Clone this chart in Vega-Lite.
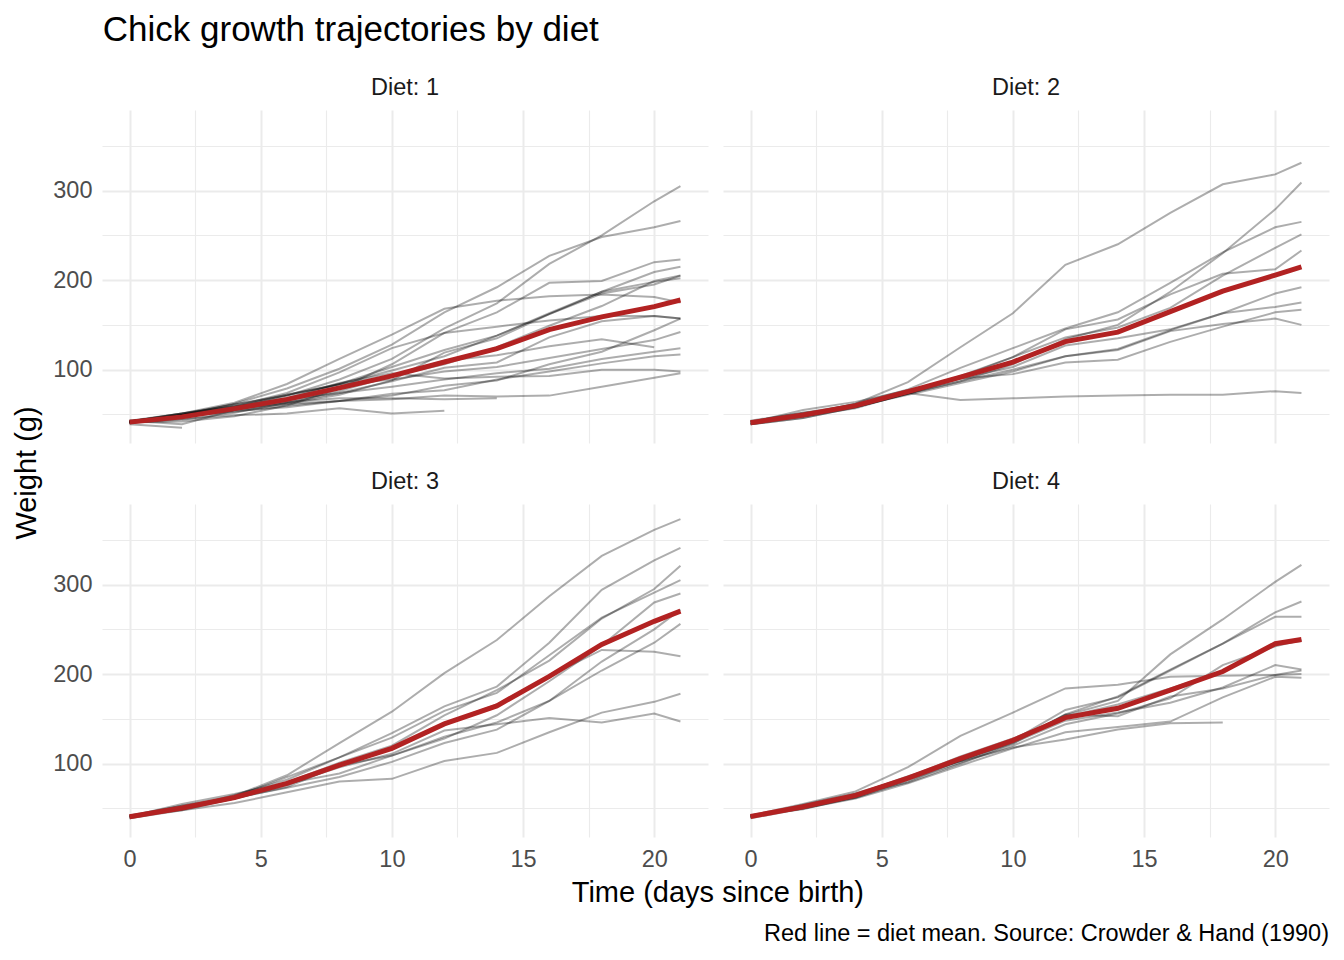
{
"$schema": "https://vega.github.io/schema/vega-lite/v6.json",
"padding": {"left": 12, "top": 12, "right": 11, "bottom": 8},
"title": {"text": "Chick growth trajectories by diet", "anchor": "start", "fontSize": 35, "fontWeight": "normal", "color": "#000000", "dx": 90, "offset": 28},
"data": {"values": [
{"chick":1,"diet":1,"time":0,"weight":42},{"chick":1,"diet":1,"time":2,"weight":51},{"chick":1,"diet":1,"time":4,"weight":59},{"chick":1,"diet":1,"time":6,"weight":64},{"chick":1,"diet":1,"time":8,"weight":76},{"chick":1,"diet":1,"time":10,"weight":93},{"chick":1,"diet":1,"time":12,"weight":106},{"chick":1,"diet":1,"time":14,"weight":125},{"chick":1,"diet":1,"time":16,"weight":149},{"chick":1,"diet":1,"time":18,"weight":171},{"chick":1,"diet":1,"time":20,"weight":199},{"chick":1,"diet":1,"time":21,"weight":205},
{"chick":2,"diet":1,"time":0,"weight":40},{"chick":2,"diet":1,"time":2,"weight":49},{"chick":2,"diet":1,"time":4,"weight":58},{"chick":2,"diet":1,"time":6,"weight":72},{"chick":2,"diet":1,"time":8,"weight":84},{"chick":2,"diet":1,"time":10,"weight":103},{"chick":2,"diet":1,"time":12,"weight":122},{"chick":2,"diet":1,"time":14,"weight":138},{"chick":2,"diet":1,"time":16,"weight":162},{"chick":2,"diet":1,"time":18,"weight":187},{"chick":2,"diet":1,"time":20,"weight":209},{"chick":2,"diet":1,"time":21,"weight":215},
{"chick":3,"diet":1,"time":0,"weight":43},{"chick":3,"diet":1,"time":2,"weight":39},{"chick":3,"diet":1,"time":4,"weight":55},{"chick":3,"diet":1,"time":6,"weight":67},{"chick":3,"diet":1,"time":8,"weight":84},{"chick":3,"diet":1,"time":10,"weight":99},{"chick":3,"diet":1,"time":12,"weight":115},{"chick":3,"diet":1,"time":14,"weight":138},{"chick":3,"diet":1,"time":16,"weight":163},{"chick":3,"diet":1,"time":18,"weight":187},{"chick":3,"diet":1,"time":20,"weight":198},{"chick":3,"diet":1,"time":21,"weight":202},
{"chick":4,"diet":1,"time":0,"weight":42},{"chick":4,"diet":1,"time":2,"weight":49},{"chick":4,"diet":1,"time":4,"weight":56},{"chick":4,"diet":1,"time":6,"weight":67},{"chick":4,"diet":1,"time":8,"weight":74},{"chick":4,"diet":1,"time":10,"weight":87},{"chick":4,"diet":1,"time":12,"weight":102},{"chick":4,"diet":1,"time":14,"weight":108},{"chick":4,"diet":1,"time":16,"weight":136},{"chick":4,"diet":1,"time":18,"weight":154},{"chick":4,"diet":1,"time":20,"weight":160},{"chick":4,"diet":1,"time":21,"weight":157},
{"chick":5,"diet":1,"time":0,"weight":41},{"chick":5,"diet":1,"time":2,"weight":42},{"chick":5,"diet":1,"time":4,"weight":48},{"chick":5,"diet":1,"time":6,"weight":60},{"chick":5,"diet":1,"time":8,"weight":79},{"chick":5,"diet":1,"time":10,"weight":106},{"chick":5,"diet":1,"time":12,"weight":141},{"chick":5,"diet":1,"time":14,"weight":164},{"chick":5,"diet":1,"time":16,"weight":197},{"chick":5,"diet":1,"time":18,"weight":199},{"chick":5,"diet":1,"time":20,"weight":220},{"chick":5,"diet":1,"time":21,"weight":223},
{"chick":6,"diet":1,"time":0,"weight":41},{"chick":6,"diet":1,"time":2,"weight":49},{"chick":6,"diet":1,"time":4,"weight":59},{"chick":6,"diet":1,"time":6,"weight":74},{"chick":6,"diet":1,"time":8,"weight":97},{"chick":6,"diet":1,"time":10,"weight":124},{"chick":6,"diet":1,"time":12,"weight":141},{"chick":6,"diet":1,"time":14,"weight":148},{"chick":6,"diet":1,"time":16,"weight":155},{"chick":6,"diet":1,"time":18,"weight":160},{"chick":6,"diet":1,"time":20,"weight":160},{"chick":6,"diet":1,"time":21,"weight":157},
{"chick":7,"diet":1,"time":0,"weight":41},{"chick":7,"diet":1,"time":2,"weight":49},{"chick":7,"diet":1,"time":4,"weight":57},{"chick":7,"diet":1,"time":6,"weight":71},{"chick":7,"diet":1,"time":8,"weight":89},{"chick":7,"diet":1,"time":10,"weight":112},{"chick":7,"diet":1,"time":12,"weight":146},{"chick":7,"diet":1,"time":14,"weight":174},{"chick":7,"diet":1,"time":16,"weight":218},{"chick":7,"diet":1,"time":18,"weight":250},{"chick":7,"diet":1,"time":20,"weight":288},{"chick":7,"diet":1,"time":21,"weight":305},
{"chick":8,"diet":1,"time":0,"weight":42},{"chick":8,"diet":1,"time":2,"weight":50},{"chick":8,"diet":1,"time":4,"weight":61},{"chick":8,"diet":1,"time":6,"weight":71},{"chick":8,"diet":1,"time":8,"weight":84},{"chick":8,"diet":1,"time":10,"weight":93},{"chick":8,"diet":1,"time":12,"weight":110},{"chick":8,"diet":1,"time":14,"weight":116},{"chick":8,"diet":1,"time":16,"weight":126},{"chick":8,"diet":1,"time":18,"weight":134},{"chick":8,"diet":1,"time":20,"weight":125},
{"chick":9,"diet":1,"time":0,"weight":42},{"chick":9,"diet":1,"time":2,"weight":51},{"chick":9,"diet":1,"time":4,"weight":59},{"chick":9,"diet":1,"time":6,"weight":68},{"chick":9,"diet":1,"time":8,"weight":85},{"chick":9,"diet":1,"time":10,"weight":96},{"chick":9,"diet":1,"time":12,"weight":90},{"chick":9,"diet":1,"time":14,"weight":92},{"chick":9,"diet":1,"time":16,"weight":93},{"chick":9,"diet":1,"time":18,"weight":100},{"chick":9,"diet":1,"time":20,"weight":100},{"chick":9,"diet":1,"time":21,"weight":98},
{"chick":10,"diet":1,"time":0,"weight":41},{"chick":10,"diet":1,"time":2,"weight":44},{"chick":10,"diet":1,"time":4,"weight":52},{"chick":10,"diet":1,"time":6,"weight":63},{"chick":10,"diet":1,"time":8,"weight":74},{"chick":10,"diet":1,"time":10,"weight":81},{"chick":10,"diet":1,"time":12,"weight":89},{"chick":10,"diet":1,"time":14,"weight":96},{"chick":10,"diet":1,"time":16,"weight":101},{"chick":10,"diet":1,"time":18,"weight":112},{"chick":10,"diet":1,"time":20,"weight":120},{"chick":10,"diet":1,"time":21,"weight":124},
{"chick":11,"diet":1,"time":0,"weight":43},{"chick":11,"diet":1,"time":2,"weight":51},{"chick":11,"diet":1,"time":4,"weight":63},{"chick":11,"diet":1,"time":6,"weight":84},{"chick":11,"diet":1,"time":8,"weight":112},{"chick":11,"diet":1,"time":10,"weight":139},{"chick":11,"diet":1,"time":12,"weight":168},{"chick":11,"diet":1,"time":14,"weight":177},{"chick":11,"diet":1,"time":16,"weight":182},{"chick":11,"diet":1,"time":18,"weight":184},{"chick":11,"diet":1,"time":20,"weight":181},{"chick":11,"diet":1,"time":21,"weight":175},
{"chick":12,"diet":1,"time":0,"weight":41},{"chick":12,"diet":1,"time":2,"weight":49},{"chick":12,"diet":1,"time":4,"weight":56},{"chick":12,"diet":1,"time":6,"weight":62},{"chick":12,"diet":1,"time":8,"weight":72},{"chick":12,"diet":1,"time":10,"weight":88},{"chick":12,"diet":1,"time":12,"weight":119},{"chick":12,"diet":1,"time":14,"weight":135},{"chick":12,"diet":1,"time":16,"weight":162},{"chick":12,"diet":1,"time":18,"weight":185},{"chick":12,"diet":1,"time":20,"weight":195},{"chick":12,"diet":1,"time":21,"weight":205},
{"chick":13,"diet":1,"time":0,"weight":41},{"chick":13,"diet":1,"time":2,"weight":48},{"chick":13,"diet":1,"time":4,"weight":53},{"chick":13,"diet":1,"time":6,"weight":60},{"chick":13,"diet":1,"time":8,"weight":65},{"chick":13,"diet":1,"time":10,"weight":67},{"chick":13,"diet":1,"time":12,"weight":71},{"chick":13,"diet":1,"time":14,"weight":70},{"chick":13,"diet":1,"time":16,"weight":71},{"chick":13,"diet":1,"time":18,"weight":81},{"chick":13,"diet":1,"time":20,"weight":91},{"chick":13,"diet":1,"time":21,"weight":96},
{"chick":14,"diet":1,"time":0,"weight":41},{"chick":14,"diet":1,"time":2,"weight":49},{"chick":14,"diet":1,"time":4,"weight":62},{"chick":14,"diet":1,"time":6,"weight":79},{"chick":14,"diet":1,"time":8,"weight":101},{"chick":14,"diet":1,"time":10,"weight":128},{"chick":14,"diet":1,"time":12,"weight":164},{"chick":14,"diet":1,"time":14,"weight":192},{"chick":14,"diet":1,"time":16,"weight":227},{"chick":14,"diet":1,"time":18,"weight":248},{"chick":14,"diet":1,"time":20,"weight":259},{"chick":14,"diet":1,"time":21,"weight":266},
{"chick":15,"diet":1,"time":0,"weight":41},{"chick":15,"diet":1,"time":2,"weight":49},{"chick":15,"diet":1,"time":4,"weight":56},{"chick":15,"diet":1,"time":6,"weight":64},{"chick":15,"diet":1,"time":8,"weight":68},{"chick":15,"diet":1,"time":10,"weight":68},{"chick":15,"diet":1,"time":12,"weight":67},{"chick":15,"diet":1,"time":14,"weight":68},
{"chick":16,"diet":1,"time":0,"weight":41},{"chick":16,"diet":1,"time":2,"weight":45},{"chick":16,"diet":1,"time":4,"weight":49},{"chick":16,"diet":1,"time":6,"weight":51},{"chick":16,"diet":1,"time":8,"weight":57},{"chick":16,"diet":1,"time":10,"weight":51},{"chick":16,"diet":1,"time":12,"weight":54},
{"chick":17,"diet":1,"time":0,"weight":42},{"chick":17,"diet":1,"time":2,"weight":51},{"chick":17,"diet":1,"time":4,"weight":61},{"chick":17,"diet":1,"time":6,"weight":72},{"chick":17,"diet":1,"time":8,"weight":83},{"chick":17,"diet":1,"time":10,"weight":89},{"chick":17,"diet":1,"time":12,"weight":98},{"chick":17,"diet":1,"time":14,"weight":103},{"chick":17,"diet":1,"time":16,"weight":113},{"chick":17,"diet":1,"time":18,"weight":123},{"chick":17,"diet":1,"time":20,"weight":133},{"chick":17,"diet":1,"time":21,"weight":142},
{"chick":18,"diet":1,"time":0,"weight":39},{"chick":18,"diet":1,"time":2,"weight":35},
{"chick":19,"diet":1,"time":0,"weight":43},{"chick":19,"diet":1,"time":2,"weight":48},{"chick":19,"diet":1,"time":4,"weight":55},{"chick":19,"diet":1,"time":6,"weight":62},{"chick":19,"diet":1,"time":8,"weight":65},{"chick":19,"diet":1,"time":10,"weight":71},{"chick":19,"diet":1,"time":12,"weight":82},{"chick":19,"diet":1,"time":14,"weight":88},{"chick":19,"diet":1,"time":16,"weight":106},{"chick":19,"diet":1,"time":18,"weight":120},{"chick":19,"diet":1,"time":20,"weight":144},{"chick":19,"diet":1,"time":21,"weight":157},
{"chick":20,"diet":1,"time":0,"weight":41},{"chick":20,"diet":1,"time":2,"weight":47},{"chick":20,"diet":1,"time":4,"weight":54},{"chick":20,"diet":1,"time":6,"weight":58},{"chick":20,"diet":1,"time":8,"weight":65},{"chick":20,"diet":1,"time":10,"weight":73},{"chick":20,"diet":1,"time":12,"weight":77},{"chick":20,"diet":1,"time":14,"weight":89},{"chick":20,"diet":1,"time":16,"weight":98},{"chick":20,"diet":1,"time":18,"weight":107},{"chick":20,"diet":1,"time":20,"weight":115},{"chick":20,"diet":1,"time":21,"weight":117},
{"chick":21,"diet":2,"time":0,"weight":40},{"chick":21,"diet":2,"time":2,"weight":50},{"chick":21,"diet":2,"time":4,"weight":62},{"chick":21,"diet":2,"time":6,"weight":86},{"chick":21,"diet":2,"time":8,"weight":125},{"chick":21,"diet":2,"time":10,"weight":163},{"chick":21,"diet":2,"time":12,"weight":217},{"chick":21,"diet":2,"time":14,"weight":240},{"chick":21,"diet":2,"time":16,"weight":275},{"chick":21,"diet":2,"time":18,"weight":307},{"chick":21,"diet":2,"time":20,"weight":318},{"chick":21,"diet":2,"time":21,"weight":331},
{"chick":22,"diet":2,"time":0,"weight":41},{"chick":22,"diet":2,"time":2,"weight":55},{"chick":22,"diet":2,"time":4,"weight":64},{"chick":22,"diet":2,"time":6,"weight":77},{"chick":22,"diet":2,"time":8,"weight":90},{"chick":22,"diet":2,"time":10,"weight":95},{"chick":22,"diet":2,"time":12,"weight":108},{"chick":22,"diet":2,"time":14,"weight":111},{"chick":22,"diet":2,"time":16,"weight":131},{"chick":22,"diet":2,"time":18,"weight":148},{"chick":22,"diet":2,"time":20,"weight":164},{"chick":22,"diet":2,"time":21,"weight":167},
{"chick":23,"diet":2,"time":0,"weight":43},{"chick":23,"diet":2,"time":2,"weight":52},{"chick":23,"diet":2,"time":4,"weight":61},{"chick":23,"diet":2,"time":6,"weight":73},{"chick":23,"diet":2,"time":8,"weight":90},{"chick":23,"diet":2,"time":10,"weight":103},{"chick":23,"diet":2,"time":12,"weight":127},{"chick":23,"diet":2,"time":14,"weight":135},{"chick":23,"diet":2,"time":16,"weight":145},{"chick":23,"diet":2,"time":18,"weight":163},{"chick":23,"diet":2,"time":20,"weight":170},{"chick":23,"diet":2,"time":21,"weight":175},
{"chick":24,"diet":2,"time":0,"weight":42},{"chick":24,"diet":2,"time":2,"weight":52},{"chick":24,"diet":2,"time":4,"weight":58},{"chick":24,"diet":2,"time":6,"weight":74},{"chick":24,"diet":2,"time":8,"weight":66},{"chick":24,"diet":2,"time":10,"weight":68},{"chick":24,"diet":2,"time":12,"weight":70},{"chick":24,"diet":2,"time":14,"weight":71},{"chick":24,"diet":2,"time":16,"weight":72},{"chick":24,"diet":2,"time":18,"weight":72},{"chick":24,"diet":2,"time":20,"weight":76},{"chick":24,"diet":2,"time":21,"weight":74},
{"chick":25,"diet":2,"time":0,"weight":40},{"chick":25,"diet":2,"time":2,"weight":49},{"chick":25,"diet":2,"time":4,"weight":62},{"chick":25,"diet":2,"time":6,"weight":78},{"chick":25,"diet":2,"time":8,"weight":102},{"chick":25,"diet":2,"time":10,"weight":124},{"chick":25,"diet":2,"time":12,"weight":146},{"chick":25,"diet":2,"time":14,"weight":164},{"chick":25,"diet":2,"time":16,"weight":197},{"chick":25,"diet":2,"time":18,"weight":231},{"chick":25,"diet":2,"time":20,"weight":259},{"chick":25,"diet":2,"time":21,"weight":265},
{"chick":26,"diet":2,"time":0,"weight":42},{"chick":26,"diet":2,"time":2,"weight":48},{"chick":26,"diet":2,"time":4,"weight":57},{"chick":26,"diet":2,"time":6,"weight":74},{"chick":26,"diet":2,"time":8,"weight":93},{"chick":26,"diet":2,"time":10,"weight":114},{"chick":26,"diet":2,"time":12,"weight":136},{"chick":26,"diet":2,"time":14,"weight":147},{"chick":26,"diet":2,"time":16,"weight":169},{"chick":26,"diet":2,"time":18,"weight":205},{"chick":26,"diet":2,"time":20,"weight":236},{"chick":26,"diet":2,"time":21,"weight":251},
{"chick":27,"diet":2,"time":0,"weight":39},{"chick":27,"diet":2,"time":2,"weight":46},{"chick":27,"diet":2,"time":4,"weight":58},{"chick":27,"diet":2,"time":6,"weight":73},{"chick":27,"diet":2,"time":8,"weight":87},{"chick":27,"diet":2,"time":10,"weight":100},{"chick":27,"diet":2,"time":12,"weight":115},{"chick":27,"diet":2,"time":14,"weight":123},{"chick":27,"diet":2,"time":16,"weight":144},{"chick":27,"diet":2,"time":18,"weight":163},{"chick":27,"diet":2,"time":20,"weight":185},{"chick":27,"diet":2,"time":21,"weight":192},
{"chick":28,"diet":2,"time":0,"weight":39},{"chick":28,"diet":2,"time":2,"weight":46},{"chick":28,"diet":2,"time":4,"weight":58},{"chick":28,"diet":2,"time":6,"weight":73},{"chick":28,"diet":2,"time":8,"weight":92},{"chick":28,"diet":2,"time":10,"weight":114},{"chick":28,"diet":2,"time":12,"weight":145},{"chick":28,"diet":2,"time":14,"weight":156},{"chick":28,"diet":2,"time":16,"weight":184},{"chick":28,"diet":2,"time":18,"weight":207},{"chick":28,"diet":2,"time":20,"weight":212},{"chick":28,"diet":2,"time":21,"weight":233},
{"chick":29,"diet":2,"time":0,"weight":39},{"chick":29,"diet":2,"time":2,"weight":48},{"chick":29,"diet":2,"time":4,"weight":59},{"chick":29,"diet":2,"time":6,"weight":74},{"chick":29,"diet":2,"time":8,"weight":87},{"chick":29,"diet":2,"time":10,"weight":106},{"chick":29,"diet":2,"time":12,"weight":134},{"chick":29,"diet":2,"time":14,"weight":150},{"chick":29,"diet":2,"time":16,"weight":187},{"chick":29,"diet":2,"time":18,"weight":230},{"chick":29,"diet":2,"time":20,"weight":279},{"chick":29,"diet":2,"time":21,"weight":309},
{"chick":30,"diet":2,"time":0,"weight":42},{"chick":30,"diet":2,"time":2,"weight":48},{"chick":30,"diet":2,"time":4,"weight":59},{"chick":30,"diet":2,"time":6,"weight":72},{"chick":30,"diet":2,"time":8,"weight":85},{"chick":30,"diet":2,"time":10,"weight":98},{"chick":30,"diet":2,"time":12,"weight":115},{"chick":30,"diet":2,"time":14,"weight":122},{"chick":30,"diet":2,"time":16,"weight":143},{"chick":30,"diet":2,"time":18,"weight":151},{"chick":30,"diet":2,"time":20,"weight":157},{"chick":30,"diet":2,"time":21,"weight":150},
{"chick":31,"diet":3,"time":0,"weight":42},{"chick":31,"diet":3,"time":2,"weight":53},{"chick":31,"diet":3,"time":4,"weight":62},{"chick":31,"diet":3,"time":6,"weight":73},{"chick":31,"diet":3,"time":8,"weight":85},{"chick":31,"diet":3,"time":10,"weight":102},{"chick":31,"diet":3,"time":12,"weight":123},{"chick":31,"diet":3,"time":14,"weight":138},{"chick":31,"diet":3,"time":16,"weight":170},{"chick":31,"diet":3,"time":18,"weight":204},{"chick":31,"diet":3,"time":20,"weight":235},{"chick":31,"diet":3,"time":21,"weight":256},
{"chick":32,"diet":3,"time":0,"weight":41},{"chick":32,"diet":3,"time":2,"weight":49},{"chick":32,"diet":3,"time":4,"weight":65},{"chick":32,"diet":3,"time":6,"weight":82},{"chick":32,"diet":3,"time":8,"weight":107},{"chick":32,"diet":3,"time":10,"weight":129},{"chick":32,"diet":3,"time":12,"weight":159},{"chick":32,"diet":3,"time":14,"weight":179},{"chick":32,"diet":3,"time":16,"weight":221},{"chick":32,"diet":3,"time":18,"weight":263},{"chick":32,"diet":3,"time":20,"weight":291},{"chick":32,"diet":3,"time":21,"weight":305},
{"chick":33,"diet":3,"time":0,"weight":39},{"chick":33,"diet":3,"time":2,"weight":50},{"chick":33,"diet":3,"time":4,"weight":63},{"chick":33,"diet":3,"time":6,"weight":77},{"chick":33,"diet":3,"time":8,"weight":96},{"chick":33,"diet":3,"time":10,"weight":111},{"chick":33,"diet":3,"time":12,"weight":137},{"chick":33,"diet":3,"time":14,"weight":144},{"chick":33,"diet":3,"time":16,"weight":151},{"chick":33,"diet":3,"time":18,"weight":146},{"chick":33,"diet":3,"time":20,"weight":156},{"chick":33,"diet":3,"time":21,"weight":147},
{"chick":34,"diet":3,"time":0,"weight":41},{"chick":34,"diet":3,"time":2,"weight":49},{"chick":34,"diet":3,"time":4,"weight":63},{"chick":34,"diet":3,"time":6,"weight":85},{"chick":34,"diet":3,"time":8,"weight":107},{"chick":34,"diet":3,"time":10,"weight":134},{"chick":34,"diet":3,"time":12,"weight":164},{"chick":34,"diet":3,"time":14,"weight":186},{"chick":34,"diet":3,"time":16,"weight":235},{"chick":34,"diet":3,"time":18,"weight":294},{"chick":34,"diet":3,"time":20,"weight":327},{"chick":34,"diet":3,"time":21,"weight":341},
{"chick":35,"diet":3,"time":0,"weight":41},{"chick":35,"diet":3,"time":2,"weight":53},{"chick":35,"diet":3,"time":4,"weight":64},{"chick":35,"diet":3,"time":6,"weight":87},{"chick":35,"diet":3,"time":8,"weight":123},{"chick":35,"diet":3,"time":10,"weight":158},{"chick":35,"diet":3,"time":12,"weight":201},{"chick":35,"diet":3,"time":14,"weight":238},{"chick":35,"diet":3,"time":16,"weight":287},{"chick":35,"diet":3,"time":18,"weight":332},{"chick":35,"diet":3,"time":20,"weight":361},{"chick":35,"diet":3,"time":21,"weight":373},
{"chick":36,"diet":3,"time":0,"weight":39},{"chick":36,"diet":3,"time":2,"weight":48},{"chick":36,"diet":3,"time":4,"weight":61},{"chick":36,"diet":3,"time":6,"weight":76},{"chick":36,"diet":3,"time":8,"weight":98},{"chick":36,"diet":3,"time":10,"weight":116},{"chick":36,"diet":3,"time":12,"weight":145},{"chick":36,"diet":3,"time":14,"weight":166},{"chick":36,"diet":3,"time":16,"weight":198},{"chick":36,"diet":3,"time":18,"weight":227},{"chick":36,"diet":3,"time":20,"weight":225},{"chick":36,"diet":3,"time":21,"weight":220},
{"chick":37,"diet":3,"time":0,"weight":41},{"chick":37,"diet":3,"time":2,"weight":48},{"chick":37,"diet":3,"time":4,"weight":56},{"chick":37,"diet":3,"time":6,"weight":68},{"chick":37,"diet":3,"time":8,"weight":80},{"chick":37,"diet":3,"time":10,"weight":83},{"chick":37,"diet":3,"time":12,"weight":103},{"chick":37,"diet":3,"time":14,"weight":112},{"chick":37,"diet":3,"time":16,"weight":135},{"chick":37,"diet":3,"time":18,"weight":157},{"chick":37,"diet":3,"time":20,"weight":169},{"chick":37,"diet":3,"time":21,"weight":178},
{"chick":38,"diet":3,"time":0,"weight":41},{"chick":38,"diet":3,"time":2,"weight":49},{"chick":38,"diet":3,"time":4,"weight":61},{"chick":38,"diet":3,"time":6,"weight":74},{"chick":38,"diet":3,"time":8,"weight":98},{"chick":38,"diet":3,"time":10,"weight":109},{"chick":38,"diet":3,"time":12,"weight":128},{"chick":38,"diet":3,"time":14,"weight":154},{"chick":38,"diet":3,"time":16,"weight":192},{"chick":38,"diet":3,"time":18,"weight":232},{"chick":38,"diet":3,"time":20,"weight":280},{"chick":38,"diet":3,"time":21,"weight":290},
{"chick":39,"diet":3,"time":0,"weight":42},{"chick":39,"diet":3,"time":2,"weight":50},{"chick":39,"diet":3,"time":4,"weight":61},{"chick":39,"diet":3,"time":6,"weight":78},{"chick":39,"diet":3,"time":8,"weight":89},{"chick":39,"diet":3,"time":10,"weight":109},{"chick":39,"diet":3,"time":12,"weight":130},{"chick":39,"diet":3,"time":14,"weight":146},{"chick":39,"diet":3,"time":16,"weight":170},{"chick":39,"diet":3,"time":18,"weight":214},{"chick":39,"diet":3,"time":20,"weight":250},{"chick":39,"diet":3,"time":21,"weight":272},
{"chick":40,"diet":3,"time":0,"weight":41},{"chick":40,"diet":3,"time":2,"weight":55},{"chick":40,"diet":3,"time":4,"weight":66},{"chick":40,"diet":3,"time":6,"weight":79},{"chick":40,"diet":3,"time":8,"weight":101},{"chick":40,"diet":3,"time":10,"weight":120},{"chick":40,"diet":3,"time":12,"weight":154},{"chick":40,"diet":3,"time":14,"weight":182},{"chick":40,"diet":3,"time":16,"weight":215},{"chick":40,"diet":3,"time":18,"weight":262},{"chick":40,"diet":3,"time":20,"weight":295},{"chick":40,"diet":3,"time":21,"weight":321},
{"chick":41,"diet":4,"time":0,"weight":42},{"chick":41,"diet":4,"time":2,"weight":51},{"chick":41,"diet":4,"time":4,"weight":66},{"chick":41,"diet":4,"time":6,"weight":85},{"chick":41,"diet":4,"time":8,"weight":103},{"chick":41,"diet":4,"time":10,"weight":124},{"chick":41,"diet":4,"time":12,"weight":155},{"chick":41,"diet":4,"time":14,"weight":153},{"chick":41,"diet":4,"time":16,"weight":175},{"chick":41,"diet":4,"time":18,"weight":184},{"chick":41,"diet":4,"time":20,"weight":199},{"chick":41,"diet":4,"time":21,"weight":204},
{"chick":42,"diet":4,"time":0,"weight":42},{"chick":42,"diet":4,"time":2,"weight":49},{"chick":42,"diet":4,"time":4,"weight":63},{"chick":42,"diet":4,"time":6,"weight":84},{"chick":42,"diet":4,"time":8,"weight":103},{"chick":42,"diet":4,"time":10,"weight":126},{"chick":42,"diet":4,"time":12,"weight":160},{"chick":42,"diet":4,"time":14,"weight":174},{"chick":42,"diet":4,"time":16,"weight":204},{"chick":42,"diet":4,"time":18,"weight":234},{"chick":42,"diet":4,"time":20,"weight":269},{"chick":42,"diet":4,"time":21,"weight":281},
{"chick":43,"diet":4,"time":0,"weight":42},{"chick":43,"diet":4,"time":2,"weight":55},{"chick":43,"diet":4,"time":4,"weight":69},{"chick":43,"diet":4,"time":6,"weight":96},{"chick":43,"diet":4,"time":8,"weight":131},{"chick":43,"diet":4,"time":10,"weight":157},{"chick":43,"diet":4,"time":12,"weight":184},{"chick":43,"diet":4,"time":14,"weight":188},{"chick":43,"diet":4,"time":16,"weight":197},{"chick":43,"diet":4,"time":18,"weight":198},{"chick":43,"diet":4,"time":20,"weight":199},{"chick":43,"diet":4,"time":21,"weight":200},
{"chick":44,"diet":4,"time":0,"weight":42},{"chick":44,"diet":4,"time":2,"weight":51},{"chick":44,"diet":4,"time":4,"weight":65},{"chick":44,"diet":4,"time":6,"weight":86},{"chick":44,"diet":4,"time":8,"weight":103},{"chick":44,"diet":4,"time":10,"weight":118},{"chick":44,"diet":4,"time":12,"weight":127},{"chick":44,"diet":4,"time":14,"weight":138},{"chick":44,"diet":4,"time":16,"weight":145},{"chick":44,"diet":4,"time":18,"weight":146},
{"chick":45,"diet":4,"time":0,"weight":41},{"chick":45,"diet":4,"time":2,"weight":50},{"chick":45,"diet":4,"time":4,"weight":61},{"chick":45,"diet":4,"time":6,"weight":78},{"chick":45,"diet":4,"time":8,"weight":98},{"chick":45,"diet":4,"time":10,"weight":117},{"chick":45,"diet":4,"time":12,"weight":135},{"chick":45,"diet":4,"time":14,"weight":141},{"chick":45,"diet":4,"time":16,"weight":147},{"chick":45,"diet":4,"time":18,"weight":174},{"chick":45,"diet":4,"time":20,"weight":197},{"chick":45,"diet":4,"time":21,"weight":196},
{"chick":46,"diet":4,"time":0,"weight":40},{"chick":46,"diet":4,"time":2,"weight":52},{"chick":46,"diet":4,"time":4,"weight":62},{"chick":46,"diet":4,"time":6,"weight":82},{"chick":46,"diet":4,"time":8,"weight":101},{"chick":46,"diet":4,"time":10,"weight":120},{"chick":46,"diet":4,"time":12,"weight":144},{"chick":46,"diet":4,"time":14,"weight":156},{"chick":46,"diet":4,"time":16,"weight":173},{"chick":46,"diet":4,"time":18,"weight":210},{"chick":46,"diet":4,"time":20,"weight":231},{"chick":46,"diet":4,"time":21,"weight":238},
{"chick":47,"diet":4,"time":0,"weight":41},{"chick":47,"diet":4,"time":2,"weight":53},{"chick":47,"diet":4,"time":4,"weight":66},{"chick":47,"diet":4,"time":6,"weight":79},{"chick":47,"diet":4,"time":8,"weight":100},{"chick":47,"diet":4,"time":10,"weight":123},{"chick":47,"diet":4,"time":12,"weight":148},{"chick":47,"diet":4,"time":14,"weight":157},{"chick":47,"diet":4,"time":16,"weight":168},{"chick":47,"diet":4,"time":18,"weight":185},{"chick":47,"diet":4,"time":20,"weight":210},{"chick":47,"diet":4,"time":21,"weight":205},
{"chick":48,"diet":4,"time":0,"weight":39},{"chick":48,"diet":4,"time":2,"weight":50},{"chick":48,"diet":4,"time":4,"weight":62},{"chick":48,"diet":4,"time":6,"weight":80},{"chick":48,"diet":4,"time":8,"weight":104},{"chick":48,"diet":4,"time":10,"weight":125},{"chick":48,"diet":4,"time":12,"weight":154},{"chick":48,"diet":4,"time":14,"weight":170},{"chick":48,"diet":4,"time":16,"weight":222},{"chick":48,"diet":4,"time":18,"weight":261},{"chick":48,"diet":4,"time":20,"weight":303},{"chick":48,"diet":4,"time":21,"weight":322},
{"chick":49,"diet":4,"time":0,"weight":40},{"chick":49,"diet":4,"time":2,"weight":53},{"chick":49,"diet":4,"time":4,"weight":64},{"chick":49,"diet":4,"time":6,"weight":85},{"chick":49,"diet":4,"time":8,"weight":108},{"chick":49,"diet":4,"time":10,"weight":128},{"chick":49,"diet":4,"time":12,"weight":152},{"chick":49,"diet":4,"time":14,"weight":166},{"chick":49,"diet":4,"time":16,"weight":184},{"chick":49,"diet":4,"time":18,"weight":203},{"chick":49,"diet":4,"time":20,"weight":233},{"chick":49,"diet":4,"time":21,"weight":237},
{"chick":50,"diet":4,"time":0,"weight":41},{"chick":50,"diet":4,"time":2,"weight":54},{"chick":50,"diet":4,"time":4,"weight":67},{"chick":50,"diet":4,"time":6,"weight":84},{"chick":50,"diet":4,"time":8,"weight":105},{"chick":50,"diet":4,"time":10,"weight":122},{"chick":50,"diet":4,"time":12,"weight":155},{"chick":50,"diet":4,"time":14,"weight":175},{"chick":50,"diet":4,"time":16,"weight":205},{"chick":50,"diet":4,"time":18,"weight":234},{"chick":50,"diet":4,"time":20,"weight":264},{"chick":50,"diet":4,"time":21,"weight":264}
]},
"vconcat": [{
  "title": {"text": "Red line = diet mean. Source: Crowder & Hand (1990)", "orient": "bottom", "anchor": "end", "fontSize": 23.5, "fontWeight": "normal", "color": "#000000", "offset": 14},
  "vconcat": [{
    "title": {"text": "Time (days since birth)", "orient": "bottom", "anchor": "middle", "fontSize": 29, "fontWeight": "normal", "color": "#000000", "offset": 8, "dx": 47},
    "vconcat": [{
      "title": {"text": "Weight (g)", "orient": "left", "anchor": "middle", "fontSize": 29, "fontWeight": "normal", "color": "#000000", "offset": 11},
      "facet": {"field": "diet", "type": "ordinal", "header": {"title": null, "labelExpr": "'Diet: ' + datum.value", "labelFontSize": 23.5, "labelColor": "#1A1A1A", "labelPadding": 11}},
      "columns": 2,
      "spacing": {"column": 15, "row": 26},
      "spec": {
        "width": 606,
        "height": 333,
        "encoding": {
          "x": {"field": "time", "type": "quantitative", "scale": {"domain": [-1.05, 22.05], "nice": false, "zero": false},
                "axis": {"title": null, "values": [0, 2.5, 5, 7.5, 10, 12.5, 15, 17.5, 20], "labelExpr": "datum.value % 5 === 0 ? datum.label : ''", "gridWidth": {"condition": {"test": "datum.value % 5 === 0", "value": 2}, "value": 1.1}, "labelPadding": 10, "labelFlush": false}},
          "y": {"scale": {"domain": [18.1, 389.9], "nice": false, "zero": false},
                "axis": {"title": null, "values": [50, 100, 150, 200, 250, 300, 350], "labelExpr": "datum.value % 100 === 0 ? datum.label : ''", "gridWidth": {"condition": {"test": "datum.value % 100 === 0", "value": 2}, "value": 1.1}, "labelPadding": 10}}
        },
        "layer": [
          {"mark": {"type": "line", "color": "#000000", "opacity": 0.32, "strokeWidth": 2},
           "encoding": {"y": {"field": "weight", "type": "quantitative"}, "detail": {"field": "chick", "type": "nominal"}}},
          {"mark": {"type": "line", "color": "#B22222", "strokeWidth": 5},
           "encoding": {"y": {"field": "weight", "aggregate": "mean", "type": "quantitative"}}}
        ]
      }
    }]
  }]
}],
"config": {
  "font": "Liberation Sans",
  "view": {"stroke": null},
  "axis": {"domain": false, "ticks": false, "gridColor": "#EBEBEB", "labelColor": "#4D4D4D", "labelFontSize": 23.5, "titleFontSize": 29, "titleFontWeight": "normal", "titleColor": "#000000"},
  "header": {"labelFontSize": 23.5}
}
}
